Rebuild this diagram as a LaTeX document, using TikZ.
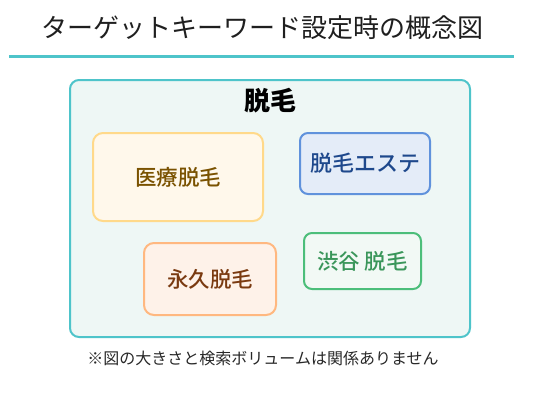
\documentclass[tikz,border=0pt]{standalone}
\usepackage{fontspec}
\usepackage{tikz}
\usetikzlibrary{positioning,calc}
\newfontfamily\jpfont{Noto Sans CJK JP}
\newfontfamily\jpmed{Noto Sans CJK JP Medium}
\definecolor{teal}{RGB}{78,196,202}
\definecolor{areafill}{RGB}{238,247,245}
\definecolor{medfill}{RGB}{255,248,235}
\definecolor{medline}{RGB}{255,217,138}
\definecolor{medtext}{RGB}{122,82,0}
\definecolor{estfill}{RGB}{228,236,248}
\definecolor{estline}{RGB}{96,146,220}
\definecolor{esttext}{RGB}{30,72,140}
\definecolor{permfill}{RGB}{254,242,233}
\definecolor{permline}{RGB}{255,184,128}
\definecolor{permtext}{RGB}{122,58,16}
\definecolor{shibfill}{RGB}{242,249,245}
\definecolor{shibline}{RGB}{76,190,122}
\definecolor{shibtext}{RGB}{58,150,90}
\definecolor{notetext}{RGB}{40,40,40}
\tikzstyle{kwbox}=[shape=rectangle,rounded corners=10pt,line width=2pt,font=\jpmed\fontsize{21.5}{24}\selectfont,inner sep=0pt]
\tikzstyle{areabox}=[shape=rectangle,rounded corners=9pt,draw=teal,fill=areafill,line width=2pt,inner sep=0pt]

\begin{document}
\begin{tikzpicture}[x=1pt,y=-1pt]
\useasboundingbox (0,0) rectangle (540,400);
\fill[white] (0,0) rectangle (540,400);

% title
\node[font=\jpfont\fontsize{26}{30}\selectfont,text=black!88] (title) at (262,28) {ターゲットキーワード設定時の概念図};
\coordinate (ruleL) at (9,56);
\coordinate (ruleR) at (514,56);
\draw[teal,line width=3pt] (ruleL) -- (ruleR);

% big keyword
\node[areabox,minimum width=400pt,minimum height=257pt] (area) at (270,208.5) {};
\node[font=\jpfont\bfseries\fontsize{26}{30}\selectfont] (main) at (270,101) {脱毛};

% related keywords
\node[kwbox,draw=medline,fill=medfill,text=medtext,minimum width=170pt,minimum height=88pt] (med) at (178,177) {医療脱毛};
\node[kwbox,draw=estline,fill=estfill,text=esttext,minimum width=130pt,minimum height=61pt,rounded corners=8pt,font=\jpmed\fontsize{22}{25}\selectfont] (est) at (365,163.5) {脱毛エステ};
\node[kwbox,draw=permline,fill=permfill,text=permtext,minimum width=132pt,minimum height=72pt] (perm) at (210,279) {永久脱毛};
\node[kwbox,draw=shibline,fill=shibfill,text=shibtext,minimum width=117pt,minimum height=56pt,rounded corners=8pt] (shib) at (362.5,261) {渋谷 脱毛};

% note
\node[font=\jpfont\fontsize{16}{19}\selectfont,text=notetext] (note) at (263,358) {※図の大きさと検索ボリュームは関係ありません};

\end{tikzpicture}
\end{document}
